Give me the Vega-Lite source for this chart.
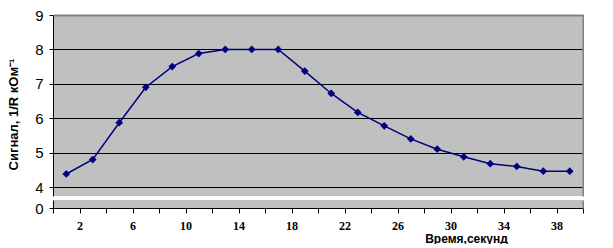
{
  "$schema": "https://vega.github.io/schema/vega-lite/v6.json",
  "background": "white",
  "padding": {"left": 7, "top": 8, "right": 0, "bottom": 0},
  "data": {"values": [
    {"t": 1, "v": 4.38}, {"t": 3, "v": 4.8}, {"t": 5, "v": 5.87}, {"t": 7, "v": 6.9},
    {"t": 9, "v": 7.5}, {"t": 11, "v": 7.88}, {"t": 13, "v": 8.0}, {"t": 15, "v": 8.0},
    {"t": 17, "v": 8.0}, {"t": 19, "v": 7.37}, {"t": 21, "v": 6.72}, {"t": 23, "v": 6.17},
    {"t": 25, "v": 5.78}, {"t": 27, "v": 5.4}, {"t": 29, "v": 5.1}, {"t": 31, "v": 4.88},
    {"t": 33, "v": 4.68}, {"t": 35, "v": 4.6}, {"t": 37, "v": 4.46}, {"t": 39, "v": 4.46}
  ]},
  "spacing": 4,
  "bounds": "flush",
  "config": {
    "view": {"stroke": null, "fill": "#C0C0C0"},
    "axis": {"labelColor": "black", "titleColor": "black", "domainColor": "black", "tickColor": "black"}
  },
  "vconcat": [
    {
      "width": 530,
      "height": 181,
      "encoding": {
        "x": {"field": "t", "type": "quantitative", "scale": {"domain": [0, 40], "nice": false},
          "axis": {"orient": "top", "labels": false, "ticks": false, "grid": false, "domainColor": "#808080", "domainWidth": 2, "title": null, "zindex": 1}}
      },
      "layer": [
        {
          "mark": {"type": "line", "color": "#000080", "strokeWidth": 1.5},
          "encoding": {
            "y": {"field": "v", "type": "quantitative", "scale": {"domain": [3.74, 9], "nice": false, "zero": false},
              "axis": {"orient": "left", "values": [4, 5, 6, 7, 8, 9], "grid": true, "gridColor": "black", "gridOpacity": 1, "gridWidth": 1,
                "tickSize": 4, "labelFont": "Liberation Sans", "labelFontSize": 15, "labelPadding": 6,
                "title": "Сигнал, 1/R кОм⁻¹", "titleFont": "Liberation Sans", "titleFontSize": 13, "titleFontWeight": "bold",
                "titleX": -40, "titleY": 99, "titleAngle": 270, "titleAlign": "center", "titleBaseline": "middle"}}
          }
        },
        {
          "mark": {"type": "point", "shape": "diamond", "filled": true, "color": "#000080", "size": 60, "opacity": 1},
          "encoding": {
            "y": {"field": "v", "type": "quantitative",
              "axis": {"orient": "right", "labels": false, "ticks": false, "grid": false, "domainColor": "#808080", "domainWidth": 2, "title": null}}
          }
        }
      ],
      "resolve": {"axis": {"y": "independent"}}
    },
    {
      "width": 530,
      "height": 8,
      "encoding": {
        "x": {"field": "t", "type": "quantitative", "scale": {"domain": [0, 40], "nice": false},
          "axis": {"orient": "bottom", "values": [0, 2, 4, 6, 8, 10, 12, 14, 16, 18, 20, 22, 24, 26, 28, 30, 32, 34, 36, 38, 40],
            "labelExpr": "(datum.value - 2) % 4 == 0 ? datum.label : ''", "labelOverlap": false, "labelFlush": false, "labelBound": false,
            "grid": false, "tickSize": 5, "labelFont": "Liberation Serif", "labelFontWeight": "bold", "labelFontSize": 12, "labelPadding": 7,
            "title": "Время,секунд", "titleFont": "Liberation Sans", "titleFontSize": 12, "titleFontWeight": "bold",
            "titleX": 413, "titleY": 30, "titleAlign": "center", "titleBaseline": "middle"}}
      },
      "layer": [
        {
          "mark": {"type": "point", "opacity": 0, "clip": true},
          "encoding": {
            "y": {"field": "v", "type": "quantitative", "scale": {"domain": [0, 0.23], "nice": false, "zero": false},
              "axis": {"orient": "left", "values": [0], "format": "d", "grid": false, "tickSize": 4, "labelFont": "Liberation Sans", "labelFontSize": 15, "labelPadding": 6, "title": null}}
          }
        },
        {
          "mark": {"type": "point", "opacity": 0, "clip": true},
          "encoding": {
            "y": {"field": "v", "type": "quantitative",
              "axis": {"orient": "right", "labels": false, "ticks": false, "grid": false, "domainColor": "#808080", "domainWidth": 2, "title": null}}
          }
        }
      ],
      "resolve": {"axis": {"y": "independent"}}
    }
  ]
}
